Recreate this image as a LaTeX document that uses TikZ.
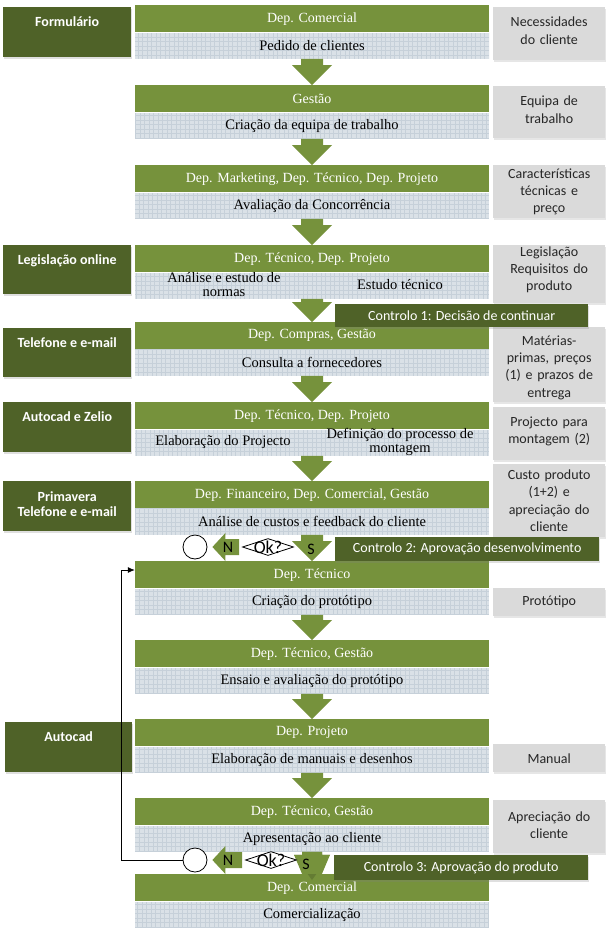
\documentclass[tikz,border=0pt]{standalone}
\usepackage{fontspec}
\setmainfont{Liberation Serif}
\newfontfamily\sansf{Carlito}
\usetikzlibrary{shapes.geometric,calc,arrows.meta,shadows}
\definecolor{hdrc}{HTML}{76923C}
\definecolor{darkc}{HTML}{4F6228}
\definecolor{bodyc}{HTML}{DAE1E7}
\definecolor{gridc}{HTML}{C6D0D9}
\definecolor{rboxc}{HTML}{DADADA}
\definecolor{rtext}{HTML}{262626}
\newcommand\flowbox[4]{%
  \node[hdr] (#1h) at (312,#2) {#3};
  \node[bdy] (#1b) at (#1h.south) {#4};}
\newcommand\blockarrow[2]{%
  \fill[hdrc] ($(#1.south)+(-11,0)$) -- ($(#1.south)+(11,0)$) -- ($(#2.north)+(11,-20)$)
   -- ($(#2.north)+(20,-20)$) -- (#2.north) -- ($(#2.north)+(-20,-20)$)
   -- ($(#2.north)+(-11,-20)$) -- cycle;}
\begin{document}
\begin{tikzpicture}[x=1pt,y=-1pt,
  hdr/.style={fill=hdrc, minimum width=354pt, minimum height=27pt, inner sep=0pt,
    text=white, font=\fontsize{14}{16}\selectfont, anchor=north},
  bdy/.style={fill=bodyc, minimum width=354pt, minimum height=26pt, inner sep=0pt,
    font=\fontsize{14.5}{16}\selectfont, anchor=north,
    path picture={\draw[gridc, line width=0.35pt] (path picture bounding box.south west)
      grid[step=4.5pt] (path picture bounding box.north east);}},
  btxt/.style={font=\fontsize{14.5}{14}\selectfont, align=center, inner sep=0pt},
  lbox/.style={fill=darkc, minimum width=128pt, minimum height=50pt, anchor=north west,
    inner sep=0pt, drop shadow={shadow xshift=1pt, shadow yshift=-1.5pt, opacity=0.25}},
  ltxt/.style={text=white, font=\sansf\bfseries\fontsize{14}{15}\selectfont, align=center,
    anchor=north, inner sep=0pt},
  rbox/.style={fill=rboxc, anchor=north west, inner sep=0pt, minimum width=112pt,
    drop shadow={shadow xshift=1pt, shadow yshift=-1.5pt, opacity=0.2}},
  rlab/.style={inner sep=0pt, text width=112pt, align=center,
    font=\sansf\fontsize{14}{17.3}\selectfont, text=rtext},
  ctrl/.style={fill=darkc, text=white, font=\sansf\fontsize{14}{17}\selectfont,
    anchor=north west, inner sep=0pt, minimum height=23pt,
    drop shadow={shadow xshift=1pt, shadow yshift=-1.5pt, opacity=0.25}},
  circ/.style={circle, draw=black, fill=white, line width=0.8pt, minimum size=24pt, inner sep=0pt},
  dia/.style={diamond, draw=black, fill=white, line width=0.8pt, aspect=3, inner sep=0pt,
    minimum width=51pt, minimum height=17pt,
    label={[inner sep=0pt, font=\sansf\fontsize{18}{18}\selectfont]center:Ok?}},
  lett/.style={font=\sansf\fontsize{16}{16}\selectfont, inner sep=0pt}
]
\useasboundingbox (0,0) rectangle (612,935);

% left boxes
\node[lbox] (l1) at (3,7) {};
\node[ltxt] at ([yshift=-9pt]l1.north) {Formulário};
\node[lbox, minimum height=49pt] (l2) at (3,245) {};
\node[ltxt] at ([yshift=-9pt]l2.north) {Legislação online};
\node[lbox, minimum height=49pt] (l3) at (3,328) {};
\node[ltxt] at ([yshift=-9pt]l3.north) {Telefone e e-mail};
\node[lbox] (l4) at (3,402) {};
\node[ltxt] at ([yshift=-9pt]l4.north) {Autocad e Zelio};
\node[lbox] (l5) at (3,481) {};
\node[ltxt] at ([yshift=-10pt]l5.north) {Primavera\\Telefone e e-mail};
\node[lbox, minimum width=127pt] (l6) at (5,722) {};
\node[ltxt] at ([yshift=-9pt]l6.north) {Autocad};

% right boxes
\node[rbox, minimum height=53pt, label={[rlab, yshift=3pt]center:Necessidades\\do cliente}] (r1) at (493,7) {};
\node[rbox, minimum height=52pt, label={[rlab, yshift=2.5pt]center:Equipa de\\trabalho}] (r2) at (493,86) {};
\node[rbox, minimum height=53pt, label={[rlab]center:Características\\técnicas e\\preço}] (r3) at (493,165) {};
\node[rbox, minimum height=58pt, label={[rlab, yshift=4.5pt]center:Legislação\\Requisitos do\\produto}] (r4) at (493,245) {};
\node[rbox, minimum height=75pt, label={[rlab, yshift=-3pt]center:Matérias-\\primas, preços\\(1) e prazos de\\entrega}] (r5) at (493,327) {};
\node[rbox, minimum height=53pt, label={[rlab, yshift=2pt]center:Projecto para\\montagem (2)}] (r6) at (493,407) {};
\node[rbox, minimum height=73pt, label={[rlab]center:Custo produto\\(1+2) e\\apreciação do\\cliente}] (r7) at (493,464) {};
\node[rbox, minimum height=28pt, label={[rlab]center:Protótipo}] (r8) at (493,588) {};
\node[rbox, minimum height=28pt, label={[rlab]center:Manual}] (r9) at (493,744) {};
\node[rbox, minimum height=53pt, label={[rlab, yshift=1.5pt]center:Apreciação do\\cliente}] (r10) at (493,800) {};

% main flow boxes
\flowbox{f1}{5}{Dep. Comercial}{Pedido de clientes}
\flowbox{f2}{85}{Gestão}{Criação da equipa de trabalho}
\flowbox{f3}{165}{Dep. Marketing, Dep. Técnico, Dep. Projeto}{Avaliação da Concorrência}
\flowbox{f4}{245}{Dep. Técnico, Dep. Projeto}{}
\node[btxt] (t4a) at (224,285) {Análise e estudo de\\normas};
\node[btxt] (t4b) at (400,285) {Estudo técnico};
\flowbox{f5}{322}{Dep. Compras, Gestão}{Consulta a fornecedores}
\flowbox{f6}{402}{Dep. Técnico, Dep. Projeto}{}
\node[btxt] (t6a) at (223,442) {Elaboração do Projecto};
\node[btxt] (t6b) at (400,442) {Definição do processo de\\montagem};
\flowbox{f7}{481}{Dep. Financeiro, Dep. Comercial, Gestão}{Análise de custos e feedback do cliente}
\flowbox{f8}{561}{Dep. Técnico}{Criação do protótipo}
\flowbox{f9}{640}{Dep. Técnico, Gestão}{Ensaio e avaliação do protótipo}
\flowbox{f10}{719}{Dep. Projeto}{Elaboração de manuais e desenhos}
\flowbox{f11}{798}{Dep. Técnico, Gestão}{Apresentação ao cliente}
\flowbox{f12}{874}{Dep. Comercial}{Comercialização}

% block arrows
\blockarrow{f1b}{f2h}
\blockarrow{f2b}{f3h}
\blockarrow{f3b}{f4h}
\blockarrow{f4b}{f5h}
\blockarrow{f5b}{f6h}
\blockarrow{f6b}{f7h}
\blockarrow{f7b}{f8h}
\blockarrow{f8b}{f9h}
\blockarrow{f9b}{f10h}
\blockarrow{f10b}{f11h}
\fill[hdrc!85!black] ($(f11b.south)+(-10,0)$) -- ($(f11b.south)+(10,0)$) -- ($(f11b.south)+(10,3)$)
  -- ($(f11b.south)+(18,3)$) -- ($(f12h.north)+(0,6)$) -- ($(f11b.south)+(-18,3)$)
  -- ($(f11b.south)+(-10,3)$) -- cycle;
\fill[hdrc] ($(f11b.south)+(-10,0)$) -- ($(f11b.south)+(10,0)$) -- ($(f11b.south)+(10,3)$)
  -- ($(f11b.south)+(18,3)$) -- ($(f11b.south)+(10,22)$) -- ($(f11b.south)+(-10,22)$)
  -- ($(f11b.south)+(-18,3)$) -- ($(f11b.south)+(-10,3)$) -- cycle;

% decision 2
\node[circ] (c2) at (195,547) {};
\node[dia] (d2) at (268,547) {};
\fill[hdrc] ($(c2.east)+(5,0)$) -- ($(c2.east)+(18,-14)$) -- ($(c2.east)+(18,-8)$)
  -- ($(d2.west)+(-3,-8)$) -- ($(d2.west)+(-3,8)$) -- ($(c2.east)+(18,8)$)
  -- ($(c2.east)+(18,14)$) -- cycle;
\node[lett] (n2) at (228,547) {N};
\node[lett] (s2) at (311,549) {S};

% decision 3
\node[circ] (c3) at (195,860) {};
\node[dia] (d3) at (271,860) {};
\fill[hdrc] ($(c3.east)+(5,0)$) -- ($(c3.east)+(18,-14)$) -- ($(c3.east)+(18,-8)$)
  -- ($(d3.west)+(-3,-8)$) -- ($(d3.west)+(-3,8)$) -- ($(c3.east)+(18,8)$)
  -- ($(c3.east)+(18,14)$) -- cycle;
\node[lett] (n3) at (228,860) {N};
\node[lett] (s3) at (306,864) {S};

% control bars
\node[ctrl, minimum width=253pt] (k1) at (335,304) {Controlo 1: Decisão de continuar};
\node[ctrl, minimum width=264pt, minimum height=24pt] (k2) at (335,537) {Controlo 2: Aprovação desenvolvimento};
\node[ctrl, minimum width=254pt, minimum height=25pt] (k3) at (334,855) {Controlo 3: Aprovação do produto};

% loop back
\coordinate (lp) at (121,570);
\draw[line width=0.8pt, -{Latex[length=7pt,width=6pt]}] (c3.west) -| (lp) -- (lp -| f8h.west);
\end{tikzpicture}
\end{document}
